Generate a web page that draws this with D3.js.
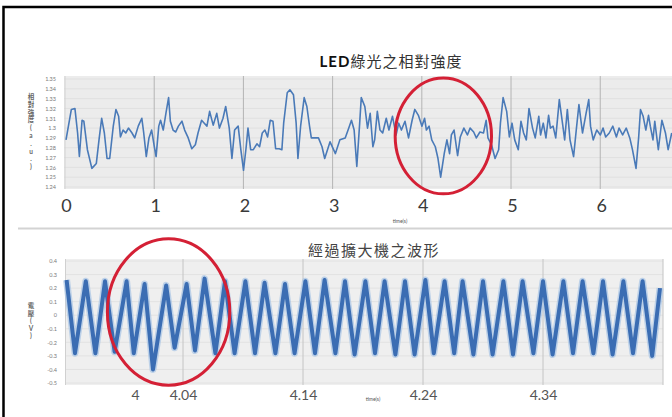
<!DOCTYPE html>
<html>
<head>
<meta charset="utf-8">
<script src="https://cdnjs.cloudflare.com/ajax/libs/d3/7.8.5/d3.min.js"></script>
<style>
  body { margin: 0; background: #fff; }
  svg text { font-family: Lato, "Noto Sans CJK TC", "Noto Sans", sans-serif; }
</style>
</head>
<body>
<svg width="672" height="417"></svg>
<script>
// LED green light relative intensity (top chart)
var ledTime = [
  0.00, 0.06, 0.10, 0.13, 0.15, 0.18, 0.20, 0.24, 0.29, 0.34, 0.37, 0.40, 0.43, 0.46, 0.49,
  0.53, 0.56, 0.59, 0.61, 0.64, 0.67, 0.70, 0.74, 0.77, 0.81, 0.85, 0.87, 0.90, 0.93, 0.96,
  0.99, 1.01, 1.04, 1.06, 1.09, 1.12, 1.15, 1.17, 1.20, 1.23, 1.26, 1.30, 1.33, 1.37, 1.41,
  1.45, 1.48, 1.52, 1.55, 1.58, 1.61, 1.65, 1.69, 1.72, 1.76, 1.79, 1.83, 1.86, 1.89, 1.93,
  1.96, 1.99, 2.02, 2.04, 2.07, 2.10, 2.14, 2.17, 2.20, 2.23, 2.26, 2.29, 2.32, 2.35, 2.39,
  2.42, 2.44, 2.48, 2.51, 2.55, 2.58, 2.60, 2.63, 2.67, 2.70, 2.73, 2.75, 2.83, 2.87, 2.90,
  2.96, 3.02, 3.07, 3.13, 3.17, 3.20, 3.23, 3.26, 3.29, 3.31, 3.35, 3.38, 3.41, 3.44, 3.46,
  3.49, 3.52, 3.55, 3.59, 3.62, 3.66, 3.70, 3.73, 3.76, 3.80, 3.84, 3.88, 3.91, 3.95, 3.99,
  4.02, 4.04, 4.07, 4.10, 4.14, 4.17, 4.20, 4.24, 4.27, 4.30, 4.32, 4.35, 4.39, 4.42, 4.46,
  4.50, 4.53, 4.57, 4.60, 4.64, 4.68, 4.71, 4.73, 4.77, 4.81, 4.85, 4.87, 4.90, 4.94, 4.97,
  5.00, 5.03, 5.07, 5.10, 5.13, 5.16, 5.19, 5.23, 5.26, 5.30, 5.32, 5.35, 5.38, 5.41, 5.43,
  5.46, 5.49, 5.53, 5.57, 5.59, 5.62, 5.65, 5.69, 5.72, 5.75, 5.79, 5.83, 5.86, 5.88, 5.91,
  5.95, 5.99, 6.02, 6.05, 6.09, 6.13, 6.17, 6.20, 6.24, 6.28, 6.32, 6.35, 6.39, 6.42, 6.44,
  6.47, 6.50, 6.53, 6.55, 6.58, 6.60, 6.64, 6.68, 6.72, 6.75, 6.79
];
var ledValue = [
  1.288, 1.319, 1.320, 1.295, 1.271, 1.308, 1.307, 1.278, 1.259, 1.264, 1.288, 1.310, 1.295, 1.269, 1.269,
  1.302, 1.319, 1.312, 1.291, 1.298, 1.295, 1.300, 1.295, 1.290, 1.302, 1.310, 1.296, 1.271, 1.290, 1.298,
  1.281, 1.271, 1.302, 1.308, 1.298, 1.315, 1.331, 1.307, 1.298, 1.296, 1.302, 1.307, 1.298, 1.290, 1.279,
  1.283, 1.295, 1.308, 1.305, 1.302, 1.317, 1.303, 1.315, 1.300, 1.310, 1.322, 1.300, 1.269, 1.298, 1.302,
  1.278, 1.257, 1.281, 1.300, 1.278, 1.278, 1.284, 1.281, 1.295, 1.298, 1.291, 1.308, 1.307, 1.279, 1.279,
  1.278, 1.305, 1.336, 1.339, 1.334, 1.305, 1.269, 1.302, 1.331, 1.322, 1.302, 1.290, 1.290, 1.281, 1.269,
  1.286, 1.274, 1.288, 1.290, 1.300, 1.308, 1.298, 1.261, 1.302, 1.331, 1.322, 1.300, 1.315, 1.281, 1.288,
  1.317, 1.298, 1.295, 1.310, 1.298, 1.312, 1.293, 1.305, 1.298, 1.307, 1.290, 1.308, 1.319, 1.313, 1.302,
  1.310, 1.298, 1.302, 1.288, 1.281, 1.269, 1.250, 1.274, 1.288, 1.274, 1.293, 1.298, 1.272, 1.291, 1.300,
  1.293, 1.300, 1.296, 1.290, 1.296, 1.295, 1.308, 1.290, 1.283, 1.269, 1.278, 1.305, 1.331, 1.317, 1.291,
  1.305, 1.288, 1.278, 1.307, 1.295, 1.288, 1.320, 1.300, 1.290, 1.312, 1.293, 1.305, 1.290, 1.313, 1.300,
  1.302, 1.290, 1.329, 1.302, 1.288, 1.319, 1.288, 1.271, 1.298, 1.324, 1.295, 1.315, 1.329, 1.302, 1.288,
  1.298, 1.293, 1.300, 1.291, 1.295, 1.302, 1.291, 1.300, 1.293, 1.300, 1.290, 1.278, 1.259, 1.291, 1.319,
  1.312, 1.298, 1.313, 1.302, 1.288, 1.307, 1.278, 1.308, 1.295, 1.278, 1.295
];
var ledXTicks = [0, 1, 2, 3, 4, 5, 6];
var ledYTicks = [1.24, 1.25, 1.26, 1.27, 1.28, 1.29, 1.3, 1.31, 1.32, 1.33, 1.34, 1.35];

// waveform after the amplifier (bottom chart)
var ampTime = [
  3.943, 3.950, 3.959, 3.967, 3.975, 3.983, 3.993, 3.999, 4.008, 4.015, 4.026, 4.033, 4.043, 4.050,
  4.058, 4.067, 4.075, 4.083, 4.092, 4.100, 4.108, 4.117, 4.125, 4.133, 4.142, 4.150, 4.158, 4.167,
  4.175, 4.183, 4.192, 4.200, 4.208, 4.217, 4.225, 4.233, 4.242, 4.249, 4.258, 4.266, 4.273, 4.282,
  4.290, 4.298, 4.307, 4.315, 4.323, 4.332, 4.340, 4.348, 4.357, 4.365, 4.373, 4.382, 4.390, 4.398,
  4.407, 4.415, 4.423, 4.431, 4.4375
];
var ampVolt = [
  0.26, -0.28, 0.25, -0.28, 0.25, -0.27, 0.25, -0.28, 0.23, -0.40, 0.22, -0.24, 0.23, -0.26,
  0.27, -0.28, 0.25, -0.28, 0.25, -0.28, 0.24, -0.28, 0.23, -0.28, 0.25, -0.28, 0.26, -0.28,
  0.25, -0.29, 0.25, -0.28, 0.25, -0.29, 0.25, -0.29, 0.26, -0.28, 0.25, -0.28, 0.25, -0.29,
  0.25, -0.29, 0.25, -0.29, 0.25, -0.28, 0.25, -0.29, 0.25, -0.28, 0.25, -0.28, 0.25, -0.29,
  0.25, -0.28, 0.25, -0.30, 0.20
];
var ampXTicks = [4, 4.04, 4.14, 4.24, 4.34];
var ampGrid = [4.04, 4.14, 4.24, 4.34, 4.44];
var ampYTicks = [-0.5, -0.4, -0.3, -0.2, -0.1, 0, 0.1, 0.2, 0.3, 0.4];

// red circles drawn on the scan: centre and radii in data units
var ledMark = { t: 4.23, v: 1.292, rt: 0.54, rv: 0.059 };
var ampMark = { t: 4.028, v: 0.024, rt: 0.051, rv: 0.54 };

var svg = d3.select("svg");

// frame of the scanned page
svg.append("path")
  .attr("d", "M3.5,417 L3.5,7 L672,7")
  .attr("fill", "none")
  .attr("stroke", "#000")
  .attr("stroke-width", 2.5);

svg.append("line")
  .attr("x1", 18).attr("x2", 672)
  .attr("y1", 228.5).attr("y2", 228.5)
  .attr("stroke", "#d3d3d3")
  .attr("stroke-width", 2);

function fmt(d) {
  return String(+d.toFixed(2));
}

function stacked(x, y, str, step) {
  var t = svg.append("text")
    .attr("x", x)
    .attr("y", y)
    .attr("text-anchor", "middle")
    .attr("font-size", 6.5)
    .attr("font-weight", "bold")
    .attr("fill", "#666");
  str.split("").forEach(function(ch, i) {
    t.append("tspan").attr("x", x).attr("y", y + i * step).text(ch);
  });
}

// ---------- top chart ----------
var x1 = d3.scaleLinear().domain([0, 6.8]).range([66, 672.6]);
var y1 = d3.scaleLinear().domain([1.24, 1.35]).range([187, 79]);

svg.append("rect")
  .attr("x", 64).attr("y", 76)
  .attr("width", 608).attr("height", 113)
  .attr("fill", "#ececec");

svg.append("g")
  .selectAll("line")
  .data(ledYTicks)
  .enter()
  .append("line")
  .attr("x1", 64).attr("x2", 672)
  .attr("y1", function(d) { return y1(d); })
  .attr("y2", function(d) { return y1(d); })
  .attr("stroke", "#e0e0e0");

svg.append("g")
  .selectAll("line")
  .data(ledXTicks)
  .enter()
  .append("line")
  .attr("x1", function(d) { return x1(d) - 1; })
  .attr("x2", function(d) { return x1(d) - 1; })
  .attr("y1", 76).attr("y2", 189)
  .attr("stroke", function(d) { return d == 0 ? "#d2d2d2" : "#b4b4b4"; });

svg.append("path")
  .datum(ledTime)
  .attr("fill", "none")
  .attr("stroke", "#4a7ab8")
  .attr("stroke-width", 1.6)
  .attr("stroke-linejoin", "round")
  .attr("d", d3.line()
    .x(function(d) { return x1(d); })
    .y(function(d, i) { return y1(ledValue[i]); }));

svg.append("g")
  .attr("transform", "translate(64,0)")
  .call(d3.axisLeft(y1).tickValues(ledYTicks).tickSize(0).tickPadding(8).tickFormat(fmt))
  .call(function(g) { g.select(".domain").remove(); })
  .selectAll("text")
  .attr("font-size", 5.5)
  .attr("fill", "#7a7a7a");

svg.append("g")
  .attr("transform", "translate(0,188)")
  .call(d3.axisBottom(x1).tickValues(ledXTicks).tickSize(0).tickPadding(11).tickFormat(d3.format("d")))
  .call(function(g) { g.select(".domain").remove(); })
  .selectAll("text")
  .attr("font-size", 18)
  .attr("fill", "#3a3a3a");

svg.append("text")
  .attr("x", 400).attr("y", 223)
  .attr("text-anchor", "middle")
  .attr("font-size", 5)
  .attr("fill", "#555")
  .text("time(s)");

var title1 = svg.append("text")
  .attr("x", 391).attr("y", 67)
  .attr("text-anchor", "middle")
  .attr("font-size", 15)
  .attr("letter-spacing", 1)
  .attr("fill", "#333");
title1.append("tspan").attr("font-weight", "bold").attr("fill", "#111").text("LED");
title1.append("tspan").text("綠光之相對強度");

stacked(31, 99, "相對強度(a.u.)", 7.8);

svg.append("ellipse")
  .attr("cx", x1(ledMark.t))
  .attr("cy", y1(ledMark.v))
  .attr("rx", x1(ledMark.rt) - x1(0))
  .attr("ry", y1(1.24) - y1(1.24 + ledMark.rv))
  .attr("fill", "none")
  .attr("stroke", "#d42035")
  .attr("stroke-width", 3);

// ---------- bottom chart ----------
var x2 = d3.scaleLinear().domain([3.9425, 4.44]).range([66, 663]);
var y2 = d3.scaleLinear().domain([-0.5, 0.4]).range([383, 261]);

svg.append("rect")
  .attr("x", 65).attr("y", 259)
  .attr("width", 598).attr("height", 126)
  .attr("fill", "#efefef");

svg.append("g")
  .selectAll("line")
  .data(ampYTicks)
  .enter()
  .append("line")
  .attr("x1", 65).attr("x2", 663)
  .attr("y1", function(d) { return y2(d); })
  .attr("y2", function(d) { return y2(d); })
  .attr("stroke", "#e2e2e2");

svg.append("g")
  .selectAll("line")
  .data(ampGrid)
  .enter()
  .append("line")
  .attr("x1", function(d) { return x2(d); })
  .attr("x2", function(d) { return x2(d); })
  .attr("y1", 259).attr("y2", 385)
  .attr("stroke", "#c4c4c4");

svg.append("line")
  .attr("x1", 65.5).attr("x2", 65.5)
  .attr("y1", 259).attr("y2", 385)
  .attr("stroke", "#d0d0d0");

var ampLine = d3.line()
  .x(function(d) { return x2(d); })
  .y(function(d, i) { return y2(ampVolt[i]); });

svg.append("path")
  .datum(ampTime)
  .attr("fill", "none")
  .attr("stroke", "#a8c4e6")
  .attr("stroke-width", 7)
  .attr("stroke-linejoin", "round")
  .attr("opacity", 0.7)
  .attr("d", ampLine);

svg.append("path")
  .datum(ampTime)
  .attr("fill", "none")
  .attr("stroke", "#3b6db3")
  .attr("stroke-width", 4)
  .attr("stroke-linejoin", "round")
  .attr("d", ampLine);

svg.append("g")
  .attr("transform", "translate(65,0)")
  .call(d3.axisLeft(y2).tickValues(ampYTicks).tickSize(0).tickPadding(8).tickFormat(fmt))
  .call(function(g) { g.select(".domain").remove(); })
  .selectAll("text")
  .attr("font-size", 5.5)
  .attr("fill", "#7a7a7a");

svg.append("g")
  .attr("transform", "translate(0,384)")
  .call(d3.axisBottom(x2).tickValues(ampXTicks).tickSize(0).tickPadding(6).tickFormat(fmt))
  .call(function(g) { g.select(".domain").remove(); })
  .selectAll("text")
  .attr("font-size", 14)
  .attr("fill", "#555");

svg.append("text")
  .attr("x", 373).attr("y", 401)
  .attr("text-anchor", "middle")
  .attr("font-size", 5)
  .attr("fill", "#555")
  .text("time(s)");

svg.append("text")
  .attr("x", 374).attr("y", 256)
  .attr("text-anchor", "middle")
  .attr("font-size", 15)
  .attr("letter-spacing", 1.5)
  .attr("fill", "#444")
  .text("經過擴大機之波形");

stacked(31, 308, "電壓(V)", 7.6);

svg.append("ellipse")
  .attr("cx", x2(ampMark.t))
  .attr("cy", y2(ampMark.v))
  .attr("rx", x2(ampMark.t + ampMark.rt) - x2(ampMark.t))
  .attr("ry", y2(0) - y2(ampMark.rv))
  .attr("fill", "none")
  .attr("stroke", "#d42035")
  .attr("stroke-width", 3);
</script>
</body>
</html>
